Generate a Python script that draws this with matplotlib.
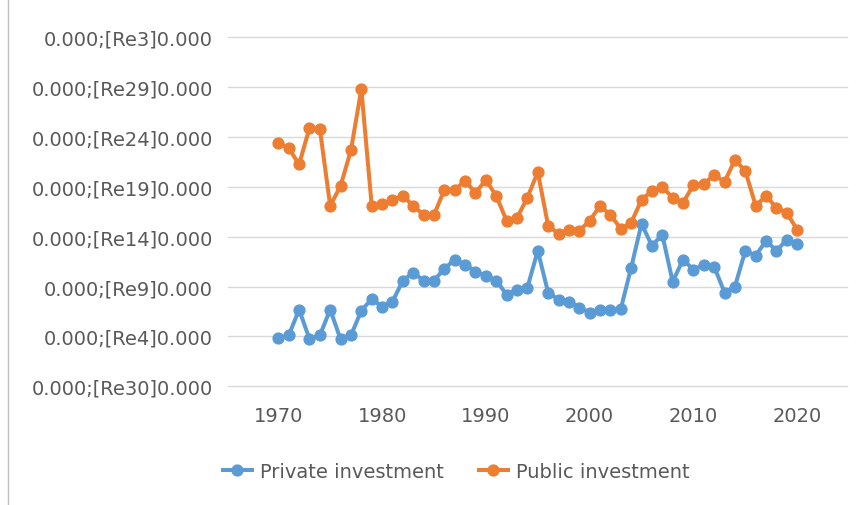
import matplotlib
matplotlib.use("Agg")
from matplotlib import pyplot as plt
from matplotlib.lines import Line2D

years = list(range(1970, 2021))
private_investment = [
    4.8, 5.1, 7.7, 4.75, 5.1, 7.7, 4.7, 5.1, 7.6, 8.75,
    8.0, 8.5, 10.6, 11.4, 10.6, 10.6, 11.8, 12.7, 12.2, 11.5,
    11.1, 10.6, 9.2, 9.7, 9.9, 13.6, 9.4, 8.7, 8.5, 7.9,
    7.4, 7.7, 7.7, 7.75, 11.9, 16.3, 14.1, 15.2, 10.5, 12.7,
    11.7, 12.2, 12.0, 9.4, 10.0, 13.6, 13.1, 14.6, 13.6, 14.7,
    14.25,
]
public_investment = [
    24.4, 23.9, 22.25, 25.9, 25.8, 18.1, 20.1, 23.7, 29.8, 18.1,
    18.3, 18.7, 19.1, 18.1, 17.2, 17.2, 19.7, 19.7, 20.6, 19.4,
    20.7, 19.1, 16.6, 16.9, 18.9, 21.5, 16.1, 15.3, 15.7, 15.6,
    16.6, 18.1, 17.2, 15.8, 16.4, 18.7, 19.6, 20.0, 18.9, 18.4,
    20.2, 20.3, 21.2, 20.5, 22.7, 21.6, 18.1, 19.1, 17.9, 17.4,
    15.7,
]
y_ticks = [0, 5, 10, 15, 20, 25, 30, 35]
y_tick_labels = [
    "0.000;[Re30]0.000", "0.000;[Re4]0.000", "0.000;[Re9]0.000",
    "0.000;[Re14]0.000", "0.000;[Re19]0.000", "0.000;[Re24]0.000",
    "0.000;[Re29]0.000", "0.000;[Re3]0.000",
]
x_ticks = [1970, 1980, 1990, 2000, 2010, 2020]

blue = "#5B9BD5"
orange = "#ED7D31"
text_color = "#595959"
font_size = 14

fig = plt.figure(figsize=(8.61, 5.06), dpi=100)
ax = fig.add_axes([228 / 861, 1 - 387.3 / 506, (847 - 228) / 861, (387.3 - 38.3) / 506])

ax.plot(years, private_investment, color=blue, linewidth=2.9,
        marker="o", markersize=7.8, label="Private investment")
ax.plot(years, public_investment, color=orange, linewidth=2.9,
        marker="o", markersize=7.8, label="Public investment")

ax.set_xlim(1965.15, 2024.8)
ax.set_ylim(0, 35)
ax.set_yticks(y_ticks)
ax.set_yticklabels(y_tick_labels)
ax.set_xticks(x_ticks)
ax.tick_params(axis="both", length=0, labelsize=font_size, labelcolor=text_color)
ax.tick_params(axis="y", pad=11)
ax.tick_params(axis="x", pad=14)
ax.grid(axis="y", color="#D9D9D9", linewidth=1.0)
for gl in ax.get_ygridlines():
    gl.set_clip_on(False)
ax.set_axisbelow(True)
for s in ax.spines.values():
    s.set_visible(False)

# outer chart border on the left
fig.add_artist(Line2D([8 / 861, 8 / 861], [0, 1], color="#BFBFBF", linewidth=1.0))

fig.legend(loc="center", bbox_to_anchor=(456 / 861, 1 - 472 / 506), ncol=2,
           frameon=False, fontsize=font_size, labelcolor=text_color,
           handlelength=1.5, handletextpad=0.4, columnspacing=1.8)

fig.savefig("out.png", dpi=100)
